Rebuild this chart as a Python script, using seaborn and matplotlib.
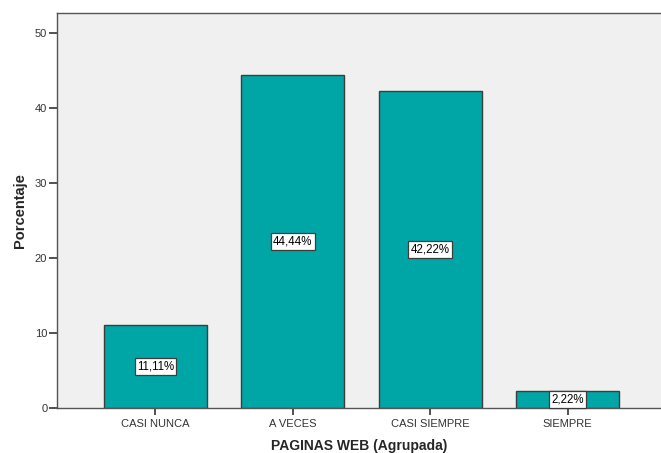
import pandas as pd
import numpy as np
import matplotlib.pyplot as plt
import seaborn as sns

categorias = ['CASI NUNCA', 'A VECES', 'CASI SIEMPRE', 'SIEMPRE']
porcentajes = [11.11, 44.44, 42.22, 2.22]
etiquetas = ['11,11%', '44,44%', '42,22%', '2,22%']

df = pd.DataFrame({'categoria': categorias, 'porcentaje': porcentajes})

sns.set_style('white')
plt.rcParams['font.family'] = ['Liberation Sans', 'DejaVu Sans']

fig = plt.figure(figsize=(6.61, 4.53), dpi=100)
ax = fig.add_axes([57 / 661, 45 / 453, 1 - 57 / 661, 395 / 453])
ax.set_facecolor('#f0f0f0')

sns.barplot(data=df, x='categoria', y='porcentaje', color='#00a6a6',
            saturation=1, width=0.75, edgecolor='#3c3c3c', linewidth=1, ax=ax)

# value labels in the middle of each bar
for i, (v, t) in enumerate(zip(porcentajes, etiquetas)):
    ax.text(i, v / 2, t, ha='center', va='center', fontsize=8.3, color='black',
            bbox=dict(boxstyle='square,pad=0.2', facecolor='white',
                      edgecolor='#3c3c3c', linewidth=0.9))

ax.set_xlim(-0.717, 3.68)
ax.set_ylim(0, 52.67)
ax.set_yticks([0, 10, 20, 30, 40, 50])
ax.set_xlabel('PAGINAS WEB (Agrupada)', fontsize=10, fontweight='bold', labelpad=7)
ax.set_ylabel('Porcentaje', fontsize=10.5, fontweight='bold', labelpad=6)
ax.tick_params(axis='both', labelsize=8, colors='#333333', width=1.2,
               direction='out', left=True, bottom=True)
ax.tick_params(axis='y', length=6, pad=1)
ax.tick_params(axis='x', length=5, pad=3)

for s in ['left', 'bottom', 'top']:
    ax.spines[s].set_color('#555555')
    ax.spines[s].set_linewidth(1)
ax.spines['right'].set_visible(False)

fig.savefig('out.png', dpi=100, facecolor='white')
